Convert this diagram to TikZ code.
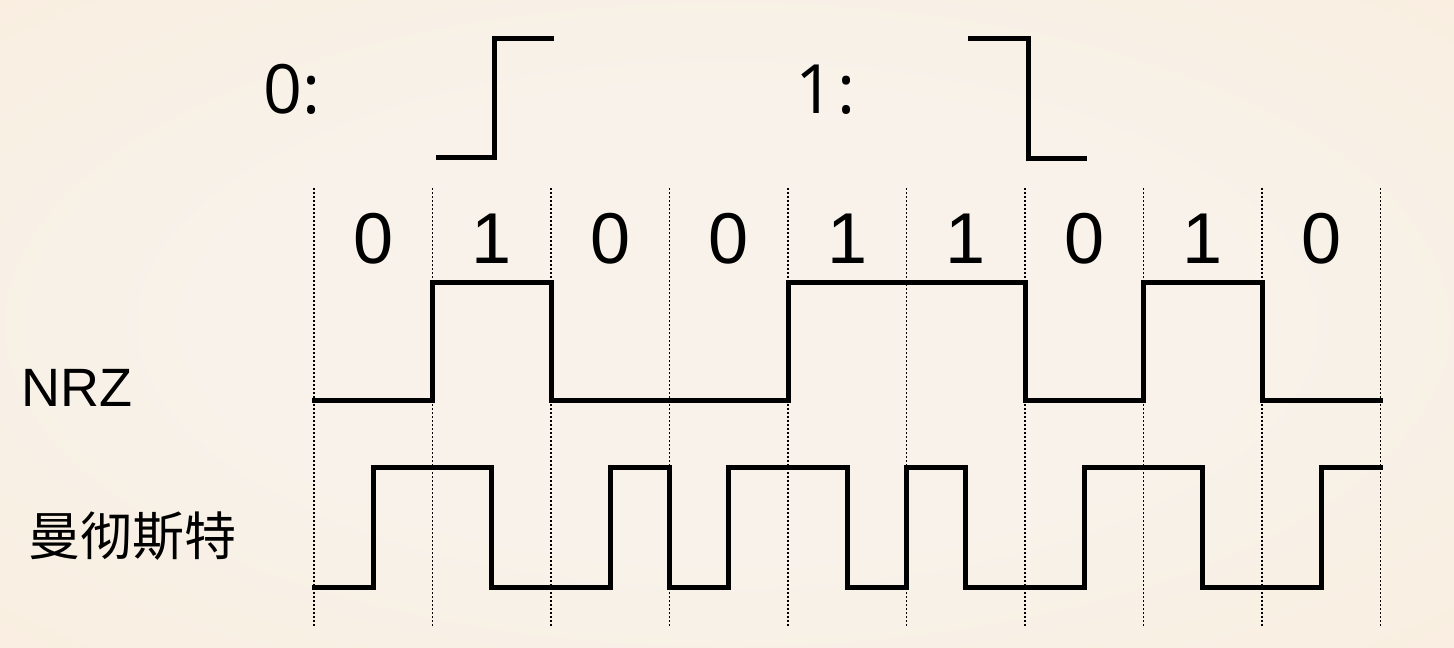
\documentclass[tikz,border=0pt]{standalone}
\usepackage{fontspec}
\setmainfont{Liberation Sans}
\newfontfamily\cjk{Noto Sans CJK SC}
\newfontfamily\rnd{Open Sans}
\definecolor{bgin}{HTML}{F8F2EA}
\definecolor{bgmid}{HTML}{FAEBD8}
\definecolor{bgout}{HTML}{FCE4C4}
\pgfdeclareradialshading{bgshade}{\pgfpoint{0bp}{0bp}}{color(0bp)=(bgin); color(18bp)=(bgin); color(50bp)=(bgmid); color(72bp)=(bgout)}
\begin{document}
\begin{tikzpicture}[x=1pt,y=-1pt,
  wave/.style={line width=5pt,line join=miter,line cap=rect},
  grid/.style={line width=1.8pt,dash pattern=on 2.2pt off 1.8pt},
  bit/.style={font=\fontsize{72}{72}\selectfont,inner sep=0pt,anchor=base},
  lab/.style={inner sep=0pt}]
\shade[shading=bgshade] (0,0) rectangle (1454,648);
\useasboundingbox (0,0) rectangle (1454,648);
% legend
\node[lab,anchor=base west,font=\rnd\fontsize{68}{68}\selectfont] (l0) at (263,113) {0:};
\node[lab,anchor=base west,font=\rnd\fontsize{68}{68}\selectfont] (l1) at (795,113) {1\kern3pt:};
\draw[wave,line cap=butt] (436,157)--(494,157)--(494,38)--(554,38);
\draw[wave,line cap=butt] (968,38)--(1028,38)--(1028,158)--(1087,158);
% grid
\foreach \i in {0,...,9}
  \draw[grid] ({314+118.5*\i},188) -- ({314+118.5*\i},626);
% bits
\foreach \b [count=\k from 0] in {0,1,0,0,1,1,0,1,0}
  \node[bit] (b\k) at ({373.25+118.5*\k},263) {\b};
% labels
\node[lab,anchor=base west,font=\fontsize{54}{54}\selectfont] (nrz) at (21,406) {NRZ};
\node[lab,anchor=west,font=\cjk\fontsize{52}{52}\selectfont] (man) at (28,536) {曼彻斯特};
% waves
\begin{scope}[xshift=314pt,x=59.25pt]
\draw[wave] (0,400)--(2,400)--(2,282)--(4,282)--(4,400)--(8,400)--(8,282)--(12,282)--(12,400)--(14,400)--(14,282)--(16,282)--(16,400)--(18,400);
\draw[wave] (0,587) -| (1,467) -| (3,587) -| (5,467) -| (6,587) -| (7,467) -| (9,587) -| (10,467) -| (11,587) -| (13,467) -| (15,587) -| (17,467) -- (18,467);
\end{scope}
\end{tikzpicture}
\end{document}
